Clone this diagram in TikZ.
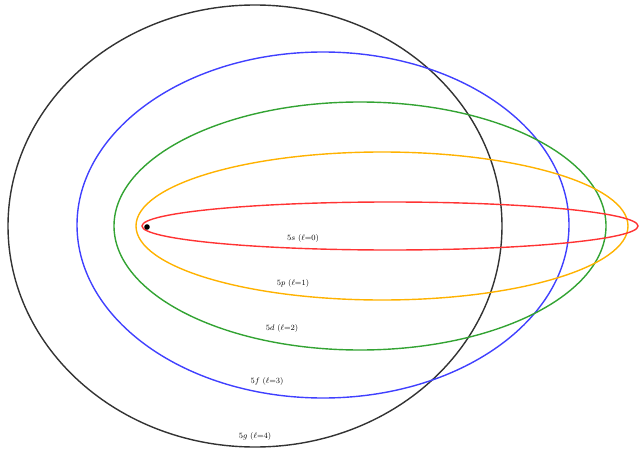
\documentclass[tikz,border=0pt]{standalone}
\begin{document}
\begin{tikzpicture}[x=1pt,y=-1pt,orb/.style={line width=1.4pt},lab/.style={font=\footnotesize,inner sep=1pt}]
\useasboundingbox (0,0) rectangle (640,452);
\draw[orb,black!80] (255,226) ellipse [x radius=247,y radius=221];
\draw[orb,blue!75] (323,225) ellipse [x radius=246,y radius=173];
\draw[orb,green!55!black!80] (360,226) ellipse [x radius=246,y radius=124];
\draw[orb,orange!60!yellow] (382,226) ellipse [x radius=246,y radius=74];
\draw[orb,red!80] (390,226) ellipse [x radius=248,y radius=24];
\fill (147,227) circle (2.8) node (nuc) {};
\node[lab] (s) at (303,238) {$5s$ ($\ell$=0)};
\node[lab] (p) at (293,283) {$5p$ ($\ell$=1)};
\node[lab] (d) at (282,328) {$5d$ ($\ell$=2)};
\node[lab] (f) at (267,381) {$5f$ ($\ell$=3)};
\node[lab] (g) at (255,436) {$5g$ ($\ell$=4)};
\end{tikzpicture}
\end{document}
